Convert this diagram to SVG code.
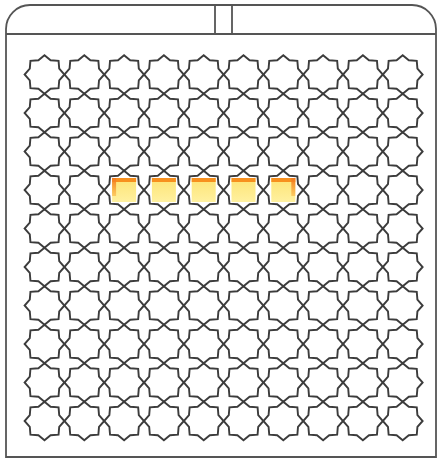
<svg xmlns="http://www.w3.org/2000/svg" width="438" height="459" viewBox="0 0 438 459">
<style>
.frame{fill:none;stroke:#555;stroke-width:1.8}
.star{fill:none;stroke:#3c3c3c;stroke-width:1.9;stroke-linejoin:miter}
.bar{fill:#f7901e}
</style>
<defs>
<path id="st" class="star" d="M19.9,0 L14.71,5.88 L14.07,13.58 L6.09,14.19 L0,19.2 L-6.09,14.19 L-14.07,13.58 L-14.71,5.88 L-19.9,0 L-14.71,-5.88 L-14.07,-13.58 L-6.09,-14.19 L0,-19.2 L6.09,-14.19 L14.07,-13.58 L14.71,-5.88 Z"/>
<linearGradient id="fillg" x1="0" y1="0" x2="0" y2="1">
<stop offset="0" stop-color="#fde374"/>
<stop offset="1" stop-color="#fff1a0"/>
</linearGradient>
<linearGradient id="sideg" x1="0" y1="0" x2="0" y2="1">
<stop offset="0" stop-color="#f47a1f"/>
<stop offset="1" stop-color="#f9a830" stop-opacity="0.5"/>
</linearGradient>
<g id="well">
<rect x="-12" y="-12" width="24" height="24" fill="url(#fillg)"/>
<rect class="bar" x="-12" y="-12" width="24" height="4"/>
</g>
</defs>
<g id="plate">
<path class="frame" d="M6,457 L6,29 A24,24 0 0 1 30,5 L412,5 A24,24 0 0 1 436,29 L436,457 Z"/>
<line class="frame" x1="6" y1="34" x2="436" y2="34"/>
<rect class="frame" x="215" y="5" width="17" height="29"/>
</g>
<g id="wells">
<g id="row1">
<use href="#st" x="44.5" y="74.5"/><use href="#st" x="84.3" y="74.5"/><use href="#st" x="124.1" y="74.5"/><use href="#st" x="163.9" y="74.5"/><use href="#st" x="203.7" y="74.5"/><use href="#st" x="243.5" y="74.5"/><use href="#st" x="283.3" y="74.5"/><use href="#st" x="323.1" y="74.5"/><use href="#st" x="362.9" y="74.5"/><use href="#st" x="402.7" y="74.5"/>
</g>
<g id="row2">
<use href="#st" x="44.5" y="113"/><use href="#st" x="84.3" y="113"/><use href="#st" x="124.1" y="113"/><use href="#st" x="163.9" y="113"/><use href="#st" x="203.7" y="113"/><use href="#st" x="243.5" y="113"/><use href="#st" x="283.3" y="113"/><use href="#st" x="323.1" y="113"/><use href="#st" x="362.9" y="113"/><use href="#st" x="402.7" y="113"/>
</g>
<g id="row3">
<use href="#st" x="44.5" y="151.5"/><use href="#st" x="84.3" y="151.5"/><use href="#st" x="124.1" y="151.5"/><use href="#st" x="163.9" y="151.5"/><use href="#st" x="203.7" y="151.5"/><use href="#st" x="243.5" y="151.5"/><use href="#st" x="283.3" y="151.5"/><use href="#st" x="323.1" y="151.5"/><use href="#st" x="362.9" y="151.5"/><use href="#st" x="402.7" y="151.5"/>
</g>
<g id="row4">
<use href="#st" x="44.5" y="190"/><use href="#st" x="84.3" y="190"/><use href="#st" x="124.1" y="190"/><use href="#st" x="163.9" y="190"/><use href="#st" x="203.7" y="190"/><use href="#st" x="243.5" y="190"/><use href="#st" x="283.3" y="190"/><use href="#st" x="323.1" y="190"/><use href="#st" x="362.9" y="190"/><use href="#st" x="402.7" y="190"/>
</g>
<g id="row5">
<use href="#st" x="44.5" y="228.5"/><use href="#st" x="84.3" y="228.5"/><use href="#st" x="124.1" y="228.5"/><use href="#st" x="163.9" y="228.5"/><use href="#st" x="203.7" y="228.5"/><use href="#st" x="243.5" y="228.5"/><use href="#st" x="283.3" y="228.5"/><use href="#st" x="323.1" y="228.5"/><use href="#st" x="362.9" y="228.5"/><use href="#st" x="402.7" y="228.5"/>
</g>
<g id="row6">
<use href="#st" x="44.5" y="267"/><use href="#st" x="84.3" y="267"/><use href="#st" x="124.1" y="267"/><use href="#st" x="163.9" y="267"/><use href="#st" x="203.7" y="267"/><use href="#st" x="243.5" y="267"/><use href="#st" x="283.3" y="267"/><use href="#st" x="323.1" y="267"/><use href="#st" x="362.9" y="267"/><use href="#st" x="402.7" y="267"/>
</g>
<g id="row7">
<use href="#st" x="44.5" y="305.5"/><use href="#st" x="84.3" y="305.5"/><use href="#st" x="124.1" y="305.5"/><use href="#st" x="163.9" y="305.5"/><use href="#st" x="203.7" y="305.5"/><use href="#st" x="243.5" y="305.5"/><use href="#st" x="283.3" y="305.5"/><use href="#st" x="323.1" y="305.5"/><use href="#st" x="362.9" y="305.5"/><use href="#st" x="402.7" y="305.5"/>
</g>
<g id="row8">
<use href="#st" x="44.5" y="344"/><use href="#st" x="84.3" y="344"/><use href="#st" x="124.1" y="344"/><use href="#st" x="163.9" y="344"/><use href="#st" x="203.7" y="344"/><use href="#st" x="243.5" y="344"/><use href="#st" x="283.3" y="344"/><use href="#st" x="323.1" y="344"/><use href="#st" x="362.9" y="344"/><use href="#st" x="402.7" y="344"/>
</g>
<g id="row9">
<use href="#st" x="44.5" y="382.5"/><use href="#st" x="84.3" y="382.5"/><use href="#st" x="124.1" y="382.5"/><use href="#st" x="163.9" y="382.5"/><use href="#st" x="203.7" y="382.5"/><use href="#st" x="243.5" y="382.5"/><use href="#st" x="283.3" y="382.5"/><use href="#st" x="323.1" y="382.5"/><use href="#st" x="362.9" y="382.5"/><use href="#st" x="402.7" y="382.5"/>
</g>
<g id="row10">
<use href="#st" x="44.5" y="421"/><use href="#st" x="84.3" y="421"/><use href="#st" x="124.1" y="421"/><use href="#st" x="163.9" y="421"/><use href="#st" x="203.7" y="421"/><use href="#st" x="243.5" y="421"/><use href="#st" x="283.3" y="421"/><use href="#st" x="323.1" y="421"/><use href="#st" x="362.9" y="421"/><use href="#st" x="402.7" y="421"/>
</g>
</g>
<g id="filled">
<g id="fill1" transform="translate(124.1,190)"><use href="#well"/><rect x="-12" y="-12" width="4" height="18" fill="url(#sideg)"/></g>
<g id="fill2" transform="translate(163.9,190)"><use href="#well"/></g>
<g id="fill3" transform="translate(203.7,190)"><use href="#well"/></g>
<g id="fill4" transform="translate(243.5,190)"><use href="#well"/></g>
<g id="fill5" transform="translate(283.3,190)"><use href="#well"/><rect x="8" y="-12" width="4" height="18" fill="url(#sideg)"/></g>
</g>
</svg>
